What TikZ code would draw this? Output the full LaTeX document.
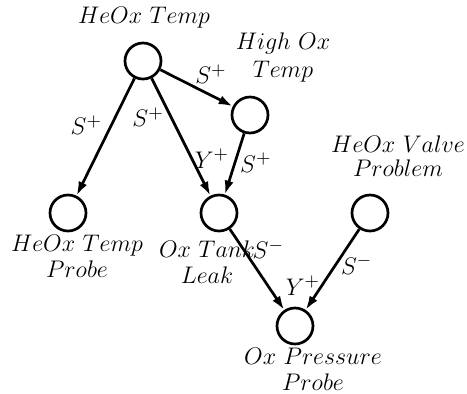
\documentclass[tikz,border=0pt]{standalone}
\usepackage{amsmath}
\usetikzlibrary{arrows.meta}

\begin{document}
\begin{tikzpicture}[x=50pt,y=50pt,>={Latex[length=7pt,width=4.6pt]},
    line width=1.35pt,font=\fontsize{11.5}{13}\selectfont,
    var/.style={circle,draw,inner sep=0pt,minimum size=18pt},
    lbl/.style={align=center,inner sep=0pt},
    sgn/.style={inner sep=1pt,font=\fontsize{13}{15}\selectfont}]
  \useasboundingbox (0,0) rectangle (4.67,-3.93);
  % variables
  \node[var] (hot)   at (1.43,-0.61) {};
  \node[var] (hiox)  at (2.50,-1.15) {};
  \node[var] (hotp)  at (0.68,-2.13) {};
  \node[var] (leak)  at (2.19,-2.13) {};
  \node[var] (valve) at (3.70,-2.13) {};
  \node[var] (pres)  at (2.95,-3.26) {};
  % names
  \node[lbl] (hotname)   at (1.44,-0.18)  {$HeOx~Temp$};
  \node[lbl] (hioxname)  at (2.83,-0.57)  {$High~Ox$\\[1pt]$Temp$};
  \node[lbl] (valvename) at (3.98,-1.56)  {$HeOx~Valve$\\[-1pt]$Problem$};
  \node[lbl] (hotpname)  at (0.77,-2.56)  {$HeOx~Temp$\\$Probe$};
  \node[lbl] (leakname)  at (2.07,-2.62)  {$Ox~Tank$\\$Leak$};
  \node[lbl] (presname)  at (3.13,-3.69)  {$Ox~Pressure$\\$Probe$};
  % influences
  \draw[->] (hot) -- (hotp) node[sgn,pos=.40,left=3pt] (s1) {$S^+$};
  \draw[->] (hot) -- (leak) node[sgn,pos=.33,left=2pt] (s2) {$S^+$};
  \draw[->] (hot) -- (hiox) node[sgn,pos=.70,above=4pt] (s3) {$S^+$};
  \draw[->] (hiox) -- (leak) node[sgn,pos=.48,right=1pt] (s4) {$S^+$};
  \draw[->] (leak) -- (pres) node[sgn,pos=.25,right=3pt] (s5) {$S^-$};
  \draw[->] (valve) -- (pres) node[sgn,pos=.44,right=1pt] (s6) {$S^-$};
  % synergies
  \node[sgn] (y1) at (2.12,-1.59) {$Y^+$};
  \node[sgn] (y2) at (3.03,-2.86) {$Y^+$};
\end{tikzpicture}
\end{document}
